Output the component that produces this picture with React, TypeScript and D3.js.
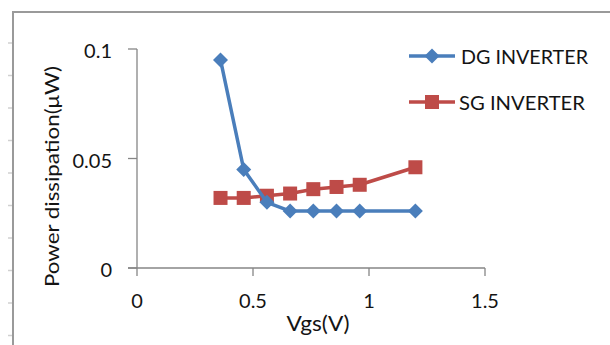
import React from "react";
import * as d3 from "d3";

const vgs = [0.36, 0.46, 0.56, 0.66, 0.76, 0.86, 0.96, 1.2];
const dgPower = [0.095, 0.045, 0.03, 0.026, 0.026, 0.026, 0.026, 0.026];
const sgPower = [0.032, 0.032, 0.033, 0.034, 0.036, 0.037, 0.038, 0.046];
const xTicks = [0, 0.5, 1, 1.5];
const xTickLabels = ["0", "0.5", "1", "1.5"];
const yTicks = [0, 0.05, 0.1];
const yTickLabels = ["0", "0.05", "0.1"];
const seriesNames = ["DG INVERTER", "SG INVERTER"];
const xTitle = "Vgs(V)";
const yTitle = "Power dissipation(μW)";

const W = 610;
const H = 345;
const FONT = "Lato, 'Liberation Sans', sans-serif";
const BLUE = "#4A7EBB";
const RED = "#BE4B48";
const AXIS = "#868686";
const TEXT = "#141414";

export default function App() {
  const x = d3.scaleLinear().domain([0, 1.5]).range([137, 485]);
  const y = d3.scaleLinear().domain([0, 0.1]).range([268, 49]);
  const line = d3
    .line<[number, number]>()
    .x((d) => x(d[0]))
    .y((d) => y(d[1]));
  const dg: [number, number][] = vgs.map((v, i) => [v, dgPower[i]]);
  const sg: [number, number][] = vgs.map((v, i) => [v, sgPower[i]]);
  const rulerYs = d3.range(43, 345, 32.5);

  const diamond = (cx: number, cy: number, r: number) =>
    `M${cx},${cy - r}L${cx + r},${cy}L${cx},${cy + r}L${cx - r},${cy}Z`;

  return (
    <svg
      width={W}
      height={H}
      style={{ position: "absolute", left: 0, top: 0, background: "#fff" }}
    >
      {rulerYs.map((ry, i) => (
        <line key={i} x1={8} x2={12} y1={ry} y2={ry} stroke="#d0d0d0" strokeWidth={1.5} />
      ))}
      <path d={`M13,${H + 5}L13,12L${W + 5},12`} fill="none" stroke="#9a9a9a" strokeWidth={2} />

      {/* axes */}
      <line x1={x(0)} x2={x(0)} y1={y(0.1)} y2={y(0)} stroke={AXIS} strokeWidth={1.3} />
      <line x1={128} x2={x(1.5)} y1={y(0)} y2={y(0)} stroke={AXIS} strokeWidth={1.3} />
      {yTicks.map((t, i) => (
        <g key={"y" + i}>
          <line x1={128} x2={x(0)} y1={y(t)} y2={y(t)} stroke={AXIS} strokeWidth={1.3} />
          <text
            x={112}
            y={y(t) + 1}
            textAnchor="end"
            dominantBaseline="central"
            fontFamily={FONT}
            fontSize={20}
            fill={TEXT}
          >
            {yTickLabels[i]}
          </text>
        </g>
      ))}
      {xTicks.map((t, i) => (
        <g key={"x" + i}>
          <line x1={x(t)} x2={x(t)} y1={y(0)} y2={y(0) + 8} stroke={AXIS} strokeWidth={1.3} />
          <text
            x={x(t)}
            y={300}
            textAnchor="middle"
            dominantBaseline="central"
            fontFamily={FONT}
            fontSize={20}
            fill={TEXT}
          >
            {xTickLabels[i]}
          </text>
        </g>
      ))}

      <text
        x={318}
        y={322}
        textAnchor="middle"
        dominantBaseline="central"
        fontFamily={FONT}
        fontSize={21}
        fill={TEXT}
        textLength={63}
        lengthAdjust="spacingAndGlyphs"
      >
        {xTitle}
      </text>
      <text
        transform="translate(51,176.5) rotate(-90)"
        textAnchor="middle"
        dominantBaseline="central"
        fontFamily={FONT}
        fontSize={20}
        fill={TEXT}
        textLength={221}
        lengthAdjust="spacingAndGlyphs"
      >
        {yTitle}
      </text>

      {/* series */}
      <path d={line(sg) || ""} fill="none" stroke={RED} strokeWidth={3.5} strokeLinejoin="round" />
      {sg.map((d, i) => (
        <rect key={"s" + i} x={x(d[0]) - 7} y={y(d[1]) - 7} width={14} height={14} fill={RED} />
      ))}
      <path d={line(dg) || ""} fill="none" stroke={BLUE} strokeWidth={3.5} strokeLinejoin="round" />
      {dg.map((d, i) => (
        <path key={"d" + i} d={diamond(x(d[0]), y(d[1]), 7.5)} fill={BLUE} />
      ))}

      {/* legend */}
      {seriesNames.map((name, i) => {
        const ly = 56 + i * 46;
        const color = i === 0 ? BLUE : RED;
        return (
          <g key={"l" + i}>
            <line x1={409} x2={455} y1={ly} y2={ly} stroke={color} strokeWidth={3.5} />
            {i === 0 ? (
              <path d={diamond(432, ly, 7.5)} fill={color} />
            ) : (
              <rect x={425} y={ly - 7} width={14} height={14} fill={color} />
            )}
            <text
              x={i === 0 ? 461 : 459}
              y={ly}
              dominantBaseline="central"
              fontFamily={FONT}
              fontSize={20}
              fill={TEXT}
              textLength={i === 0 ? 127 : 126}
              lengthAdjust="spacingAndGlyphs"
            >
              {name}
            </text>
          </g>
        );
      })}
    </svg>
  );
}
